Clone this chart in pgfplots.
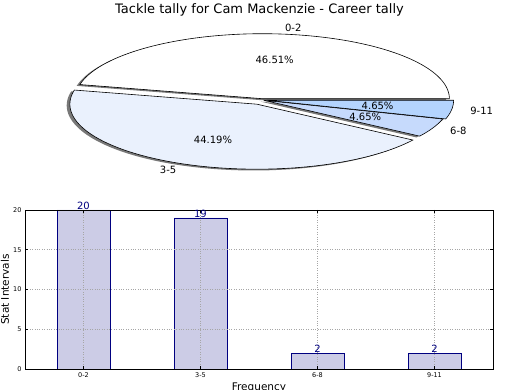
\documentclass[border=0pt]{standalone}
\usepackage{fontspec}
\setmainfont{DejaVu Sans}
\usepackage{pgfplots}
\pgfplotsset{compat=1.18}
\usepackage{pgfplotstable}
\definecolor{barfill}{RGB}{204,204,230}
\definecolor{navyc}{RGB}{0,0,128}
\definecolor{cA}{RGB}{255,255,255}
\definecolor{cB}{RGB}{234,241,253}
\definecolor{cC}{RGB}{198,218,252}
\definecolor{cD}{RGB}{180,212,254}
\definecolor{shadowc}{RGB}{120,120,120}

\pgfplotstableread{
pos count
0 20
1 19
2 2
3 2
}\stats

\newcommand{\labfont}{\fontsize{10}{12}\selectfont}
\newcommand{\pct}[1]{\pgfmathprintnumber[fixed,fixed zerofill,precision=2,assume math mode=true]{#1}\%}

\begin{document}
\begin{tikzpicture}
% counts (same as the bar table)
\def\nA{20}\def\nB{19}\def\nC{2}\def\nD{2}
\pgfmathsetmacro{\tot}{\nA+\nB+\nC+\nD}
\pgfmathsetmacro{\aA}{0}
\pgfmathsetmacro{\aB}{360*\nA/\tot}
\pgfmathsetmacro{\aC}{360*(\nA+\nB)/\tot}
\pgfmathsetmacro{\aD}{360*(\nA+\nB+\nC)/\tot}
\pgfmathsetmacro{\aE}{360}
\pgfmathsetmacro{\mA}{(\aA+\aB)/2}
\pgfmathsetmacro{\mB}{(\aB+\aC)/2}
\pgfmathsetmacro{\mC}{(\aC+\aD)/2}
\pgfmathsetmacro{\mD}{(\aD+\aE)/2}
% explode
\pgfmathsetmacro{\oxA}{0.02*cos(\mA)}\pgfmathsetmacro{\oyA}{0.02*sin(\mA)}
\pgfmathsetmacro{\oxB}{0.07*cos(\mB)}\pgfmathsetmacro{\oyB}{0.07*sin(\mB)}
\pgfmathsetmacro{\oxC}{0.01*cos(\mC)}\pgfmathsetmacro{\oyC}{0.01*sin(\mC)}
\pgfmathsetmacro{\oxD}{0.025*cos(\mD)}\pgfmathsetmacro{\oyD}{0.025*sin(\mD)}
\pgfmathsetmacro{\sxA}{\oxA-0.017}\pgfmathsetmacro{\syA}{\oyA-0.02}
\pgfmathsetmacro{\sxB}{\oxB-0.017}\pgfmathsetmacro{\syB}{\oyB-0.02}
\pgfmathsetmacro{\sxC}{\oxC-0.017}\pgfmathsetmacro{\syC}{\oyC-0.02}
\pgfmathsetmacro{\sxD}{\oxD-0.017}\pgfmathsetmacro{\syD}{\oyD-0.02}
\pgfmathsetmacro{\pA}{100*\nA/\tot}
\pgfmathsetmacro{\pB}{100*\nB/\tot}
\pgfmathsetmacro{\pC}{100*\nC/\tot}
\pgfmathsetmacro{\pD}{100*\nD/\tot}

\node[font=\fontsize{13}{15}\selectfont] at (259.5pt,380pt) {Tackle tally for Cam Mackenzie - Career tally};

\begin{axis}[at={(75pt,225pt)}, anchor=south west, scale only axis,
  width=374pt, height=130pt, xmin=-1, xmax=1, ymin=-1, ymax=1,
  hide axis, clip=false]
% shadows
\addplot[draw=none, fill=shadowc, domain=\aA:\aB, samples=90] ({\sxA+cos(x)},{\syA+sin(x)}) -- (axis cs:\sxA,\syA) -- cycle;
\addplot[draw=none, fill=shadowc, domain=\aB:\aC, samples=90] ({\sxB+cos(x)},{\syB+sin(x)}) -- (axis cs:\sxB,\syB) -- cycle;
\addplot[draw=none, fill=shadowc, domain=\aC:\aD, samples=20] ({\sxC+cos(x)},{\syC+sin(x)}) -- (axis cs:\sxC,\syC) -- cycle;
\addplot[draw=none, fill=shadowc, domain=\aD:\aE, samples=20] ({\sxD+cos(x)},{\syD+sin(x)}) -- (axis cs:\sxD,\syD) -- cycle;
% wedges
\addplot[draw=black, line width=0.6pt, fill=cA, domain=\aA:\aB, samples=90] ({\oxA+cos(x)},{\oyA+sin(x)}) -- (axis cs:\oxA,\oyA) -- cycle;
\addplot[draw=black, line width=0.6pt, fill=cB, domain=\aB:\aC, samples=90] ({\oxB+cos(x)},{\oyB+sin(x)}) -- (axis cs:\oxB,\oyB) -- cycle;
\addplot[draw=black, line width=0.6pt, fill=cC, domain=\aC:\aD, samples=20] ({\oxC+cos(x)},{\oyC+sin(x)}) -- (axis cs:\oxC,\oyC) -- cycle;
\addplot[draw=black, line width=0.6pt, fill=cD, domain=\aD:\aE, samples=20] ({\oxD+cos(x)},{\oyD+sin(x)}) -- (axis cs:\oxD,\oyD) -- cycle;
% labels
\node[anchor=west, font=\labfont, inner sep=0pt] at (axis cs:{\oxA+1.1*cos(\mA)},{\oyA+1.1*sin(\mA)}) {0-2};
\node[anchor=east, font=\labfont, inner sep=0pt] at (axis cs:{\oxB+1.1*cos(\mB)},{\oyB+1.1*sin(\mB)}) {3-5};
\node[anchor=west, font=\labfont, inner sep=0pt] at (axis cs:{\oxC+1.1*cos(\mC)},{\oyC+1.1*sin(\mC)}) {6-8};
\node[anchor=west, font=\labfont, inner sep=0pt] at (axis cs:{\oxD+1.1*cos(\mD)},{\oyD+1.1*sin(\mD)}) {9-11};
\node[font=\labfont, inner sep=0pt] at (axis cs:{\oxA+0.6*cos(\mA)},{\oyA+0.6*sin(\mA)}) {\pct{\pA}};
\node[font=\labfont, inner sep=0pt] at (axis cs:{\oxB+0.6*cos(\mB)},{\oyB+0.6*sin(\mB)}) {\pct{\pB}};
\node[font=\labfont, inner sep=0pt] at (axis cs:{\oxC+0.6*cos(\mC)},{\oyC+0.6*sin(\mC)}) {\pct{\pC}};
\node[font=\labfont, inner sep=0pt] at (axis cs:{\oxD+0.6*cos(\mD)},{\oyD+0.6*sin(\mD)}) {\pct{\pD}};
\end{axis}

\begin{axis}[at={(25pt,21pt)}, anchor=south west, scale only axis,
  width=468pt, height=159pt,
  xmin=-0.5, xmax=3.5, ymin=0, ymax=20,
  xtick={0,1,2,3}, xticklabels={0-2,3-5,6-8,9-11},
  ytick={0,5,10,15,20},
  grid=major, grid style={dotted, gray!70, line width=0.6pt},
  axis on top,
  tick align=inside, major tick length=3pt, tick style={black, line width=0.5pt},
  ticklabel style={font=\fontsize{6.5}{7.5}\selectfont},
  /pgf/number format/assume math mode=true,
  axis line style={black, line width=0.7pt},
  ylabel={Stat Intervals}, xlabel={Frequency},
  label style={font=\fontsize{10.5}{12}\selectfont},
  ylabel style={at={(axis description cs:-0.043,0.5)}, anchor=center},
  xlabel style={at={(axis description cs:0.5,-0.12)}, anchor=center},
  ]
\addplot[ybar, bar width=0.45, fill=barfill, draw=navyc, line width=0.6pt,
  nodes near coords,
  nodes near coords style={font=\fontsize{10}{12}\selectfont, text=navyc, inner sep=0.5pt, anchor=south}]
  table[x=pos, y=count]{\stats};
\end{axis}
\pgfresetboundingbox
\useasboundingbox (0pt,0pt) rectangle (520pt,390pt);
\end{tikzpicture}
\end{document}
